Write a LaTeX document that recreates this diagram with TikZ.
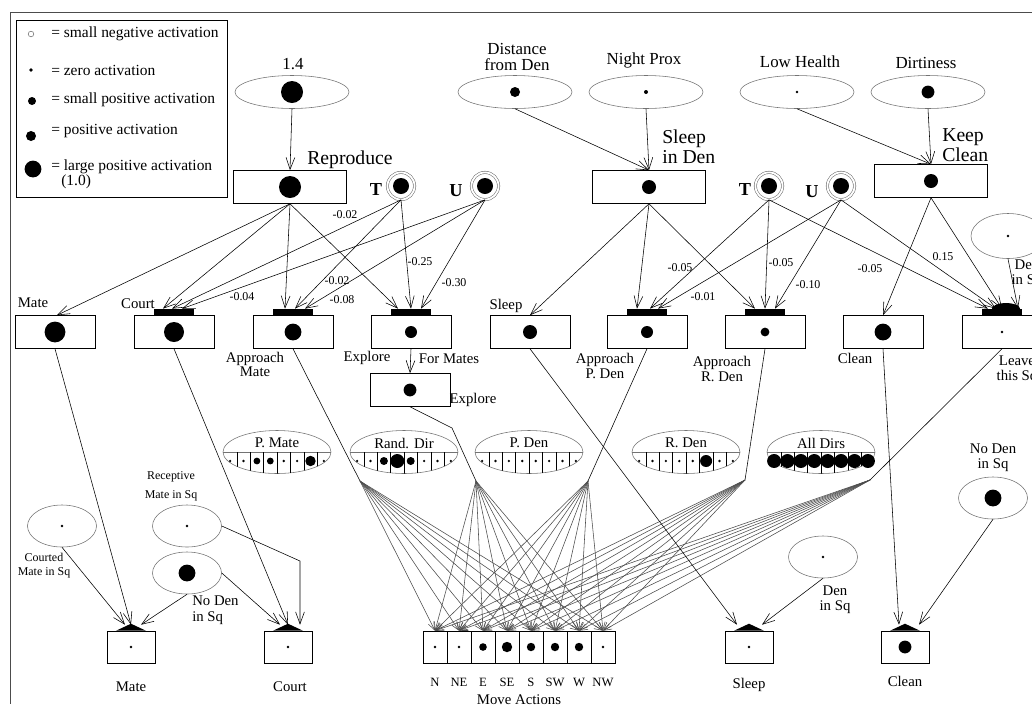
\documentclass[tikz,border=0pt]{standalone}
\usepackage{fontspec}
\setmainfont{Liberation Serif}
\usetikzlibrary{positioning,shapes.geometric,arrows.meta}

\begin{document}
\begin{tikzpicture}[x=0.025cm,y=-0.025cm,
    every node/.style={inner sep=0pt},
    sensor/.style={ellipse,draw=black!55,minimum width=28.5mm,minimum height=8.25mm},
    cue/.style={ellipse,draw=black!55,minimum width=17.25mm,minimum height=10.5mm},
    dirfield/.style={ellipse,draw=black!55,minimum width=27mm,minimum height=10.75mm},
    sysbox/.style={draw,minimum width=28.25mm,minimum height=8.25mm},
    actbox/.style={draw,minimum width=20mm,minimum height=8.25mm},
    primbox/.style={draw,minimum width=12mm,minimum height=8mm},
    movebox/.style={draw,minimum width=6mm,minimum height=8mm},
    inbar/.style={fill=black,minimum width=10mm,minimum height=1.5mm},
    turing/.style={circle,draw=black!55,double=white,double distance=0.45mm,minimum size=6.8mm},
    feed/.style={-{Straight Barb[length=3mm,width=2.2mm]}},
    fanline/.style={black!70,line width=0.4pt,-{Straight Barb[length=2mm,width=1.5mm]}},
    wtlbl/.style={font=\fontsize{8.5}{10}\selectfont},
    legtxt/.style={font=\fontsize{11}{12}\selectfont,anchor=west},
    toplbl/.style={font=\fontsize{12}{11.5}\selectfont,align=center},
    syslbl/.style={font=\fontsize{14}{14.5}\selectfont,align=left},
    lbl/.style={font=\fontsize{10.5}{10.5}\selectfont,align=center},
    cuelbl/.style={font=\fontsize{8.5}{10}\selectfont,align=center},
    tulbl/.style={font=\bfseries\fontsize{13}{13}\selectfont},
  ]
  \useasboundingbox (0,0) rectangle (1032,713);
  \clip (0,0) rectangle (1032,713);

% frame and legend
  \draw[black!70] (1040,12) -- (10,12) -- (10,704);
  \draw (16,20) rectangle (227,197);
  \draw[black!55] (31,34) circle[radius=0.7mm];
  \fill (31,70) circle[radius=0.45mm];
  \fill (32,101) circle[radius=1mm];
  \fill (31,136) circle[radius=1.25mm];
  \fill (33,169) circle[radius=2.1mm];
  \node[legtxt] (leg1) at (51,34) {= small negative activation};
  \node[legtxt] (leg2) at (51,70) {= zero activation};
  \node[legtxt] (leg3) at (51,100) {= small positive activation};
  \node[legtxt] (leg4) at (51,131) {= positive activation};
  \node[legtxt] (leg5) at (51,167) {= large positive activation};
  \node[legtxt] (leg6) at (61,182) {(1.0)};

% drive inputs
  \node[sensor] (drive) at (292,92) {};
  \node[toplbl] (drivelbl) at (293,64) {1.4};
  \node[sensor] (dist) at (515,92) {};
  \node[toplbl] (distlbl) at (517,57) {Distance\\from Den};
  \node[sensor] (night) at (646,92) {};
  \node[toplbl] (nightlbl) at (644,60) {Night Prox};
  \node[sensor] (health) at (797,92) {};
  \node[toplbl] (healthlbl) at (800,62) {Low Health};
  \node[sensor] (dirt) at (928,92) {};
  \node[toplbl] (dirtlbl) at (926,63) {Dirtiness};
  \fill (drive) circle[radius=2.75mm];
  \fill (dist) circle[radius=1.25mm];
  \fill (night) circle[radius=0.5mm];
  \fill (health) circle[radius=0.35mm];
  \fill (dirt) circle[radius=1.6mm];

% systems
  \node[sysbox] (repro) at (290,187) {};
  \node[syslbl] (reprolbl) at (350,160) {Reproduce};
  \node[sysbox] (sleepden) at (649,187) {};
  \node[syslbl,anchor=west] (sleepdenlbl) at (662,147) {Sleep\\in Den};
  \node[sysbox] (keepclean) at (931,181) {};
  \node[syslbl,anchor=west] (keepcleanlbl) at (942,145) {Keep\\Clean};
  \fill (repro) circle[radius=2.75mm];
  \fill (sleepden) circle[radius=1.75mm];
  \fill (keepclean) circle[radius=1.75mm];

  \node[turing] (tA) at (401,186) {};
  \node[turing] (uA) at (485,186) {};
  \node[turing] (tB) at (769,186) {};
  \node[turing] (uB) at (841,186) {};
  \foreach \n in {tA,uA,tB,uB} \fill (\n) circle[radius=2mm];
  \node[tulbl] (tAlbl) at (376,190) {T};
  \node[tulbl] (uAlbl) at (456,191) {U};
  \node[tulbl] (tBlbl) at (745,190) {T};
  \node[tulbl] (uBlbl) at (812,192) {U};

% behaviours
  \node[actbox] (mate) at (55,332) {};
  \node[actbox] (court) at (174,332) {};
  \node[actbox] (appmate) at (293,332) {};
  \node[actbox] (explore) at (411,332) {};
  \node[actbox] (sleep) at (530,332) {};
  \node[actbox] (appden) at (647,332) {};
  \node[actbox] (apprden) at (765,332) {};
  \node[actbox] (clean) at (883,332) {};
  \node[actbox] (leave) at (1002,332) {};
  \foreach \n in {court,appmate,explore,appden,apprden,leave}
    \node[inbar,above=0pt of \n] (\n-bar) {};
  \fill ([xshift=1mm]leave-bar.north) ellipse[x radius=3.5mm,y radius=1.4mm];
  \foreach \n/\r in {mate/2.6,court/2.5,appmate/2.1,explore/1.5,sleep/1.75,appden/1.5,apprden/1.1,clean/2.1,leave/0.35}
    \fill (\n) circle[radius=\r*1mm];
  \node[actbox] (formates) at (410,390) {};
  \fill (formates) circle[radius=1.6mm];

  \node[lbl] (matelbl) at (33,303) {Mate};
  \node[lbl] (courtlbl) at (138,304) {Court};
  \node[lbl,font=\fontsize{10.5}{10}\selectfont] (appmatelbl) at (255,364) {Approach\\Mate};
  \node[lbl] (explorelbl) at (367,358) {Explore};
  \node[lbl] (formateslbl) at (449,359) {For Mates};
  \node[lbl] (formatesbox) at (473,400) {Explore};
  \node[lbl] (sleeplbl) at (506,306) {Sleep};
  \node[lbl] (appdenlbl) at (605,366) {Approach\\P. Den};
  \node[lbl] (apprdenlbl) at (722,369) {Approach\\R. Den};
  \node[lbl] (cleanlbl) at (855,358) {Clean};
  \node[lbl] (leavelbl) at (1017,370) {Leave\\this Sq};
  \node[cue,minimum width=18.5mm,minimum height=11.25mm] (densqtop) at (1008,236) {};
  \fill (densqtop) circle[radius=0.35mm];
  \node[lbl] (densqtoplbl) at (1027,274) {Den\\in Sq};

% drives to systems
  \draw[feed] (drive.south) -- (repro.north);
  \draw[feed] (dist.south) -- (sleepden.north);
  \draw[feed] (night.south) -- (sleepden.north);
  \draw[feed] (health.south) -- (keepclean.north);
  \draw[feed] (dirt.south) -- (keepclean.north);

% systems to behaviours
  \draw[feed] (repro.south) -- ([xshift=0.5mm]mate.north);
  \draw[feed] (repro.south) -- ([xshift=-2.75mm]court-bar.north);
  \draw[feed] (repro.south) -- ([xshift=-2mm]appmate-bar.north);
  \draw[feed] (repro.south) -- ([xshift=-3.25mm]explore-bar.north);
  \draw[feed] (tA.south) -- ([xshift=-0.5mm]court-bar.north);
  \draw[feed] (tA.south) -- ([xshift=0.5mm]appmate-bar.north);
  \draw[feed] (tA.south) -- ([xshift=0mm]explore-bar.north);
  \draw[feed] (uA.south) -- ([xshift=2mm]court-bar.north);
  \draw[feed] (uA.south) -- ([xshift=3mm]appmate-bar.north);
  \draw[feed] (uA.south) -- ([xshift=2.5mm]explore-bar.north);

  \draw[feed] (sleepden.south) -- (sleep.north);
  \draw[feed] (sleepden.south) -- ([xshift=-2.5mm]appden-bar.north);
  \draw[feed] (sleepden.south) -- ([xshift=-2.5mm]apprden-bar.north);
  \draw[feed] (tB.south) -- ([xshift=0.75mm]appden-bar.north);
  \draw[feed] (tB.south) -- ([xshift=0mm]apprden-bar.north);
  \draw[feed] (tB.south) -- ([xshift=-3.5mm]leave-bar.north);
  \draw[feed] (uB.south) -- ([xshift=2.75mm]appden-bar.north);
  \draw[feed] (uB.south) -- ([xshift=2.5mm]apprden-bar.north);
  \draw[feed] (uB.south) -- ([xshift=-1.5mm]leave-bar.north);
  \draw[feed] (keepclean.south) -- (clean.north);
  \draw[feed] (keepclean.south) -- ([xshift=0mm]leave-bar.north);
  \draw[feed] (densqtop.south) -- ([xshift=4mm]leave-bar.north);
  \draw[feed] (explore.south) -- (formates.north);

% weights
  \node[wtlbl] (w1) at (345,215) {-0.02};
  \node[wtlbl] (w2) at (242,297) {-0.04};
  \node[wtlbl] (w3) at (337,281) {-0.02};
  \node[wtlbl] (w4) at (342,300) {-0.08};
  \node[wtlbl] (w5) at (420,262) {-0.25};
  \node[wtlbl] (w6) at (454,283) {-0.30};
  \node[wtlbl] (w7) at (680,268) {-0.05};
  \node[wtlbl] (w8) at (703,297) {-0.01};
  \node[wtlbl] (w9) at (781,263) {-0.05};
  \node[wtlbl] (w10) at (808,285) {-0.10};
  \node[wtlbl] (w11) at (870,269) {-0.05};
  \node[wtlbl] (w12) at (943,257) {0.15};

% direction fields
  \foreach \cx/\ttl/\rads [count=\f] in {277/P. Mate/{0.33,0.33,0.85,0.85,0.33,0.33,1.3,0.33},
      404/Rand. Dir/{0.33,0.33,1,1.75,1,0.33,0.33,0.33},
      529/P. Den/{0.33,0.33,0.33,0.33,0.33,0.33,0.33,0.33},
      686/R. Den/{0.33,0.33,0.33,0.33,0.33,1.5,0.33,0.33},
      821/All Dirs/{1.75,1.75,1.75,1.75,1.75,1.75,1.75,1.75}}{
    \node[dirfield] (field\f) at (\cx,452) {};
    \node[lbl] (fieldlbl\f) at (\cx,443) {\ttl};
    \begin{scope}
      \clip (\cx,452) ellipse[x radius=13.5mm,y radius=5.375mm];
      \draw[black!55] (\cx-60,452) -- (\cx+60,452);
      \foreach \k in {1,...,7} \draw (\cx+13.4*\k-53.6,452) -- +(0,30);
    \end{scope}
    \foreach \r [count=\k] in \rads \fill (\cx+13.4*\k-60.3,461) circle[radius=\r*1mm];
  }

% move actions
  \foreach \d/\r [count=\k] in {N/0.33,NE/0.33,E/0.95,SE/1.3,S/1.05,SW/1.05,W/1.05,NW/0.33}{
    \node[movebox] (mv\k) at (411+24*\k,647) {};
    \fill (mv\k) circle[radius=\r*1mm];
    \node[font=\fontsize{9}{9}\selectfont] (mvlbl\k) at (411+24*\k,682) {\d};
  }
  \node[lbl] (movelbl) at (519,700) {Move Actions};

  \coordinate (fanA) at (360,481);
  \coordinate (fanB) at (476,481);
  \coordinate (fanC) at (588,481);
  \coordinate (fanD) at (745,480);
  \coordinate (fanE) at (870,480);
  \coordinate (fmbend) at (452,428);
  \draw (appmate.south) -- (fanA);
  \draw (formates.south) -- (fmbend) -- (fanB);
  \draw (appden.south) -- (fanC);
  \draw (apprden.south) -- (fanD);
  \draw (leave.south) -- (fanE);
  \foreach \s in {A,B,C,D,E}
    \foreach \m in {1,...,8}
      \draw[fanline] (fan\s) -- (mv\m.north);

% primitive actions
  \node[primbox] (mateact) at (131,647) {};
  \node[primbox] (courtact) at (288,647) {};
  \node[primbox] (sleepact) at (749,647) {};
  \node[primbox] (cleanact) at (905,647) {};
  \foreach \n in {mateact,courtact,sleepact,cleanact}
    \fill ([xshift=-3.75mm]\n.north) -- ([yshift=1.75mm]\n.north) -- ([xshift=3.75mm]\n.north) -- cycle;
  \foreach \n in {mateact,courtact,sleepact}
    \fill (\n) circle[radius=0.35mm];
  \fill (cleanact) circle[radius=1.6mm];
  \node[lbl] (mateactlbl) at (131,687) {Mate};
  \node[lbl] (courtactlbl) at (290,687) {Court};
  \node[lbl] (sleepactlbl) at (749,685) {Sleep};
  \node[lbl] (cleanactlbl) at (905,681) {Clean};

% cues
  \node[cue] (courted) at (62,526) {};
  \node[cue] (receptive) at (187,526) {};
  \node[cue] (nodenL) at (187,573) {};
  \node[cue] (densq) at (823,557) {};
  \node[cue] (nodenR) at (993,498) {};
  \foreach \n in {courted,receptive,densq} \fill (\n) circle[radius=0.35mm];
  \fill (nodenL) circle[radius=2.1mm];
  \fill (nodenR) circle[radius=2.1mm];
  \node[cuelbl] (courtedlbl) at (44,566) {Courted\\Mate in Sq};
  \node[cuelbl,font=\fontsize{8.5}{13.5}\selectfont] (receptivelbl) at (171,486) {Receptive\\Mate in Sq};
  \node[lbl,align=left,anchor=west,font=\fontsize{10.5}{11.5}\selectfont] (nodenLlbl) at (192,610) {No Den\\in Sq};
  \node[lbl] (densqlbl) at (835,600) {Den\\in Sq};
  \node[lbl] (nodenRlbl) at (993,458) {No Den\\in Sq};

  \coordinate (recbend) at (300,561);
  \draw[feed] (mate.south) -- ([yshift=1.5mm]mateact.north);
  \draw[feed] (courted.south) -- ([xshift=-1.5mm,yshift=1.5mm]mateact.north);
  \draw[feed] (nodenL.south) -- ([xshift=2.5mm,yshift=1.5mm]mateact.north);
  \draw[feed] (court.south) -- ([yshift=1.5mm]courtact.north);
  \draw[feed] (nodenL.east) -- ([xshift=-2mm,yshift=1.5mm]courtact.north);
  \draw[feed] (receptive.east) -- (recbend) -- ([xshift=3mm,yshift=1.5mm]courtact.north);
  \draw[feed] (sleep.south) -- ([xshift=-3mm,yshift=1.5mm]sleepact.north);
  \draw[feed] (densq.south) -- ([xshift=3.25mm,yshift=1.5mm]sleepact.north);
  \draw[feed] (clean.south) -- ([xshift=-1.5mm,yshift=1.5mm]cleanact.north);
  \draw[feed] (nodenR.south) -- ([xshift=3.5mm,yshift=1.5mm]cleanact.north);
\end{tikzpicture}
\end{document}
